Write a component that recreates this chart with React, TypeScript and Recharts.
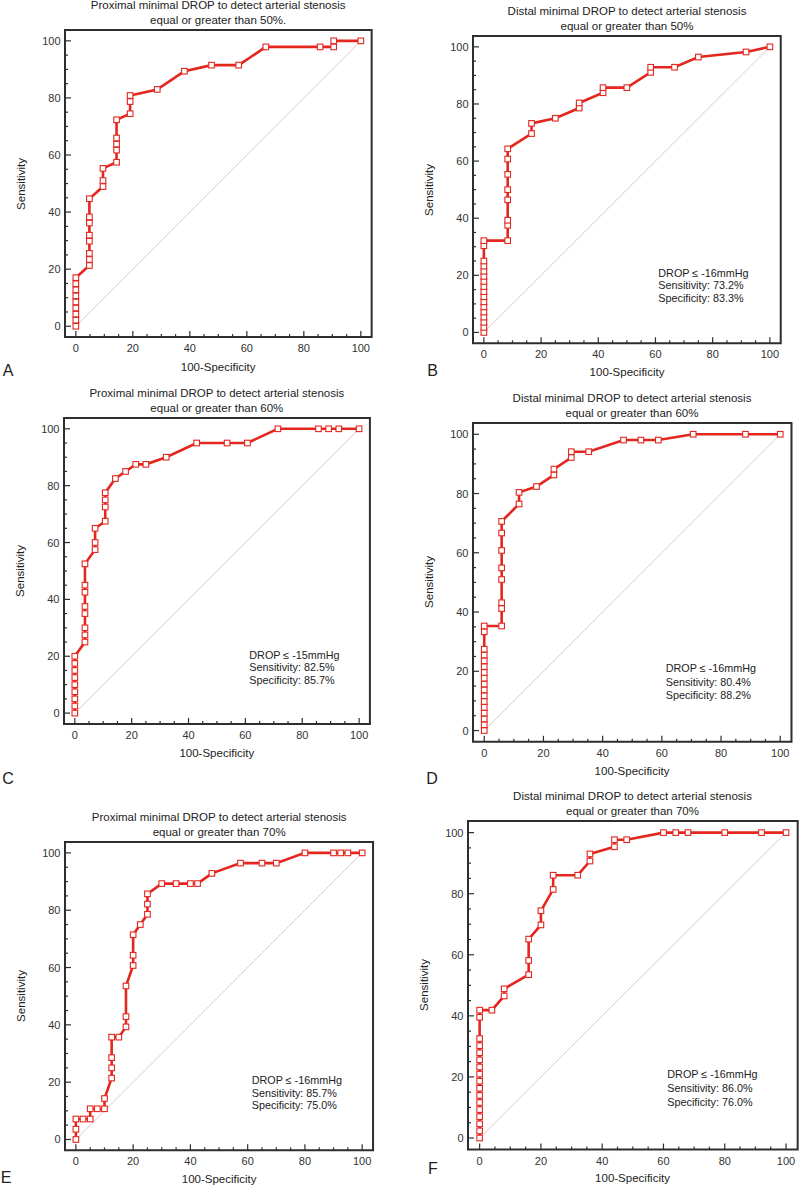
import React from 'react';
import { LineChart, Line, XAxis, YAxis, ReferenceArea } from 'recharts';

const FONT = '"Liberation Sans", Arial, Helvetica, sans-serif';
const RED = '#e3261e';
const FRAME = '#2e2e2e';
const DIAG = '#e3c6c6';
const PAD = 3.8;

// ---- shared axis ticks ----
const TICKS = [0, 5, 10, 15, 20, 25, 30, 35, 40, 45, 50, 55, 60, 65, 70, 75, 80, 85, 90, 95, 100];
const MAJOR_TICKS = [0, 20, 40, 60, 80, 100];

// ---- reference diagonal ----
const diagX = [0, 100];
const diagY = [0, 100];

// ---- Panel A: Proximal, >= 50% ----
const aX = [0, 0, 0, 0, 0, 0, 0, 0, 0,
  4.76, 4.76, 4.76, 4.76, 4.76, 4.76, 4.76, 4.76,
  9.52, 9.52, 9.52,
  14.29, 14.29, 14.29, 14.29, 14.29,
  19.05, 19.05, 19.05,
  28.57, 38.1, 47.62, 57.14, 66.67, 85.71, 90.48, 90.48, 100];
const aY = [0, 2.13, 4.26, 6.38, 8.51, 10.64, 12.77, 14.89, 17.02,
  21.28, 23.4, 25.53, 29.79, 31.91, 36.17, 38.3, 44.68,
  48.94, 51.06, 55.32,
  57.45, 61.7, 63.83, 65.96, 72.34,
  74.47, 78.72, 80.85,
  82.98, 89.36, 91.49, 91.49, 97.87, 97.87, 97.87, 100, 100];

// ---- Panel B: Distal, >= 50% ----
const bX = [0, 0, 0, 0, 0, 0, 0, 0, 0, 0, 0, 0, 0, 0, 0, 0, 0,
  8.33, 8.33, 8.33, 8.33, 8.33, 8.33, 8.33, 8.33,
  16.67, 16.67, 25, 33.33, 33.33, 41.67, 41.67, 50, 58.33, 58.33, 66.67, 75, 91.67, 100];
const bY = [0, 1.79, 3.57, 5.36, 7.14, 8.93, 10.71, 12.5, 14.29, 16.07, 17.86, 19.64, 21.43, 23.21, 25.0, 30.36, 32.14,
  32.14, 37.5, 39.29, 46.43, 50.0, 55.36, 60.71, 64.29,
  69.64, 73.21, 75.0, 78.57, 80.36, 83.93, 85.71, 85.71, 91.07, 92.86, 92.86, 96.43, 98.21, 100];

// ---- Panel C: Proximal, >= 60% ----
const cX = [0, 0, 0, 0, 0, 0, 0, 0, 0,
  3.57, 3.57, 3.57, 3.57, 3.57, 3.57, 3.57, 3.57,
  7.14, 7.14, 7.14,
  10.71, 10.71, 10.71, 10.71,
  14.29, 17.86, 21.43, 25, 32.14, 42.86, 53.57, 60.71, 71.43, 85.71, 89.29, 92.86, 100];
const cY = [0, 2.5, 5, 7.5, 10, 12.5, 15, 17.5, 20,
  25, 27.5, 30, 35, 37.5, 42.5, 45, 52.5,
  57.5, 60, 65,
  67.5, 72.5, 75, 77.5,
  82.5, 85, 87.5, 87.5, 90, 95, 95, 95, 100, 100, 100, 100, 100];

// ---- Panel D: Distal, >= 60% ----
const dX = [0, 0, 0, 0, 0, 0, 0, 0, 0, 0, 0, 0, 0, 0, 0, 0, 0,
  5.88, 5.88, 5.88, 5.88, 5.88, 5.88, 5.88, 5.88,
  11.76, 11.76, 17.65, 23.53, 23.53, 29.41, 29.41, 35.29, 47.06, 52.94, 58.82, 70.59, 88.24, 100];
const dY = [0, 1.96, 3.92, 5.88, 7.84, 9.8, 11.76, 13.73, 15.69, 17.65, 19.61, 21.57, 23.53, 25.49, 27.45, 33.33, 35.29,
  35.29, 41.18, 43.14, 50.98, 54.9, 60.78, 66.67, 70.59,
  76.47, 80.39, 82.35, 86.27, 88.24, 92.16, 94.12, 94.12, 98.04, 98.04, 98.04, 100, 100, 100];

// ---- Panel E: Proximal, >= 70% ----
const eX = [0, 0, 0, 2.5, 5, 5, 7.5, 10, 10,
  12.5, 12.5, 12.5, 12.5, 15, 17.5, 17.5, 17.5, 20, 20, 20, 22.5, 25, 25, 25,
  30, 35, 40, 42.5, 47.5, 57.5, 65, 70, 80, 90, 92.5, 95, 100];
const eY = [0, 3.57, 7.14, 7.14, 7.14, 10.71, 10.71, 10.71, 14.29,
  21.43, 25, 28.57, 35.71, 35.71, 39.29, 42.86, 53.57, 60.71, 64.29, 71.43, 75, 78.57, 82.14, 85.71,
  89.29, 89.29, 89.29, 89.29, 92.86, 96.43, 96.43, 96.43, 100, 100, 100, 100, 100];

// ---- Panel F: Distal, >= 70% ----
const fX = [0, 0, 0, 0, 0, 0, 0, 0, 0, 0, 0, 0, 0, 0, 0, 0, 0,
  4, 8, 8, 16, 16, 16, 20, 20, 24, 24, 32, 36, 36, 44, 44, 48, 60, 64, 68, 80, 92, 100];
const fY = [0, 2.33, 4.65, 6.98, 9.3, 11.63, 13.95, 16.28, 18.6, 20.93, 23.26, 25.58, 27.91, 30.23, 32.56, 39.53, 41.86,
  41.86, 46.51, 48.84, 53.49, 58.14, 65.12, 69.77, 74.42, 81.4, 86.05, 86.05, 90.7, 93.02, 95.35, 97.67, 97.67,
  100, 100, 100, 100, 100, 100];

// ---- texts ----
const TITLE_A = ['Proximal minimal DROP to detect arterial stenosis', 'equal or greater than 50%.'];
const TITLE_B = ['Distal minimal DROP to detect arterial stenosis', 'equal or greater than 50%'];
const TITLE_C = ['Proximal minimal DROP to detect arterial stenosis', 'equal or greater than 60%'];
const TITLE_D = ['Distal minimal DROP to detect arterial stenosis', 'equal or greater than 60%'];
const TITLE_E = ['Proximal minimal DROP to detect arterial stenosis', 'equal or greater than 70%'];
const TITLE_F = ['Distal minimal DROP to detect arterial stenosis', 'equal or greater than 70%'];
const NOTE_B = ['DROP \u2264 -16mmHg', 'Sensitivity: 73.2%', 'Specificity: 83.3%'];
const NOTE_C = ['DROP \u2264 -15mmHg', 'Sensitivity: 82.5%', 'Specificity: 85.7%'];
const NOTE_D = ['DROP \u2264 -16mmHg', 'Sensitivity: 80.4%', 'Specificity: 88.2%'];
const NOTE_E = ['DROP \u2264 -16mmHg', 'Sensitivity: 85.7%', 'Specificity: 75.0%'];
const NOTE_F = ['DROP \u2264 -16mmHg', 'Sensitivity: 86.0%', 'Specificity: 76.0%'];
const X_TITLE = '100-Specificity';
const Y_TITLE = 'Sensitivity';

type Spec = { x0: number; x100: number; y100: number; y0: number };
type NoteSpec = { left: number; top: number; lh: number; lines: string[] } | null;

const XTick = (p: any) => {
  const v = p.payload.value;
  const major = MAJOR_TICKS.includes(v);
  const len = major ? 6 : 3;
  return (
    <g>
      <line x1={p.x} x2={p.x} y1={p.y} y2={p.y - len} stroke={FRAME} strokeWidth={1.2} />
      {major && (
        <text x={p.x} y={p.y + 11} textAnchor="middle" dominantBaseline="central" fontSize={11} fill="#333" fontFamily={FONT}>
          {v}
        </text>
      )}
    </g>
  );
};

const YTick = (p: any) => {
  const v = p.payload.value;
  const major = MAJOR_TICKS.includes(v);
  const len = major ? 6 : 3;
  return (
    <g>
      <line x1={p.x} x2={p.x + len} y1={p.y} y2={p.y} stroke={FRAME} strokeWidth={1.2} />
      {major && (
        <text x={p.x - 4.5} y={p.y} textAnchor="end" dominantBaseline="central" fontSize={11} fill="#333" fontFamily={FONT}>
          {v}
        </text>
      )}
    </g>
  );
};

const SquareDot = (p: any) => {
  if (p.cx == null || p.cy == null) return <g key={p.index} />;
  const s = 5.6;
  return (
    <rect key={p.index} x={p.cx - s / 2} y={p.cy - s / 2} width={s} height={s} fill="#fff" stroke={RED} strokeWidth={1.1} />
  );
};

const textStyle: React.CSSProperties = { position: 'absolute', fontFamily: FONT, color: '#222', whiteSpace: 'nowrap' };

function Panel(props: {
  spec: Spec; xs: number[]; ys: number[]; title: string[]; note: NoteSpec;
  letter: string; lx: number; ly: number;
}) {
  const { spec, xs, ys, title, note, letter, lx, ly } = props;
  const sx = (spec.x100 - spec.x0) / 100;
  const sy = (spec.y0 - spec.y100) / 100;
  const fl = spec.x0 - PAD * sx;
  const ft = spec.y100 - PAD * sy;
  const fw = (100 + 2 * PAD) * sx;
  const fh = (100 + 2 * PAD) * sy;
  const L = 50, R = 4, T = 4, B = 30;
  const rows = xs.map((x, i) => ({ x, y: ys[i] }));
  const diag = diagX.map((x, i) => ({ x, y: diagY[i] }));
  const cx = fl + fw / 2;
  return (
    <>
      <div style={{ position: 'absolute', left: fl - L, top: ft - T }}>
        <LineChart width={L + fw + R} height={T + fh + B} margin={{ top: T, right: R, left: 0, bottom: 0 }}>
          <XAxis type="number" dataKey="x" domain={[-PAD, 100 + PAD]} ticks={TICKS} interval={0}
            tick={(tp: any) => <XTick {...tp} />} tickLine={false} tickSize={0} tickMargin={0}
            height={B} axisLine={false} allowDataOverflow />
          <YAxis type="number" dataKey="y" domain={[-PAD, 100 + PAD]} ticks={TICKS} interval={0}
            tick={(tp: any) => <YTick {...tp} />} tickLine={false} tickSize={0} tickMargin={0}
            width={L} axisLine={false} allowDataOverflow />
          <ReferenceArea x1={-PAD} x2={100 + PAD} y1={-PAD} y2={100 + PAD} fill="none" fillOpacity={0}
            stroke={FRAME} strokeWidth={2} ifOverflow="visible" />
          <Line data={diag} dataKey="y" stroke={DIAG} strokeWidth={1} dot={false} isAnimationActive={false} />
          <Line data={rows} dataKey="y" stroke={RED} strokeWidth={2.6} dot={(dp: any) => <SquareDot key={dp.index} {...dp} />}
            activeDot={false} isAnimationActive={false} />
        </LineChart>
      </div>
      {title.map((t, i) => (
        <div key={'t' + i} style={{ ...textStyle, left: cx - 200, width: 400, textAlign: 'center', top: ft - 25 + i * 15 - 8, height: 16, lineHeight: '16px', fontSize: 11.5 }}>
          {t}
        </div>
      ))}
      <div style={{ ...textStyle, left: cx - 100, width: 200, textAlign: 'center', top: ft + fh + 29 - 8, height: 16, lineHeight: '16px', fontSize: 11.5 }}>
        {X_TITLE}
      </div>
      <div style={{ ...textStyle, left: fl - 44 - 60, width: 120, textAlign: 'center', top: ft + fh / 2 - 8, height: 16, lineHeight: '16px', fontSize: 11.5, transform: 'rotate(-90deg)' }}>
        {Y_TITLE}
      </div>
      {note && note.lines.map((t, i) => (
        <div key={'n' + i} style={{ ...textStyle, left: note.left, top: note.top + i * note.lh - 7, height: 14, lineHeight: '14px', fontSize: 10.8 }}>
          {t}
        </div>
      ))}
      <div style={{ ...textStyle, left: lx - 10, width: 20, textAlign: 'center', top: ly - 10, height: 20, lineHeight: '20px', fontSize: 16 }}>
        {letter}
      </div>
    </>
  );
}

export default function App() {
  return (
    <div style={{ position: 'absolute', left: 0, top: 0, width: 800, height: 1190, background: '#fff', overflow: 'hidden' }}>
      <Panel spec={{ x0: 75.7, x100: 360.7, y100: 41.3, y0: 326.7 }} xs={aX} ys={aY} title={TITLE_A} note={null} letter="A" lx={8} ly={371} />
      <Panel spec={{ x0: 484, x100: 770, y100: 46.7, y0: 332.3 }} xs={bX} ys={bY} title={TITLE_B}
        note={{ left: 658.3, top: 272.7, lh: 12.5, lines: NOTE_B }} letter="B" lx={432.5} ly={371} />
      <Panel spec={{ x0: 74.7, x100: 359, y100: 429, y0: 713.3 }} xs={cX} ys={cY} title={TITLE_C}
        note={{ left: 249.3, top: 655, lh: 12.3, lines: NOTE_C }} letter="C" lx={8} ly={779} />
      <Panel spec={{ x0: 484, x100: 780, y100: 434, y0: 730.3 }} xs={dX} ys={dY} title={TITLE_D}
        note={{ left: 665.7, top: 668.3, lh: 13.3, lines: NOTE_D }} letter="D" lx={432} ly={779} />
      <Panel spec={{ x0: 76, x100: 362.3, y100: 852.7, y0: 1139.3 }} xs={eX} ys={eY} title={TITLE_E}
        note={{ left: 251.7, top: 1080, lh: 12.5, lines: NOTE_E }} letter="E" lx={6} ly={1178} />
      <Panel spec={{ x0: 479.3, x100: 785.7, y100: 832.3, y0: 1137.7 }} xs={fX} ys={fY} title={TITLE_F}
        note={{ left: 667.3, top: 1074, lh: 13.8, lines: NOTE_F }} letter="F" lx={433} ly={1169} />
    </div>
  );
}
